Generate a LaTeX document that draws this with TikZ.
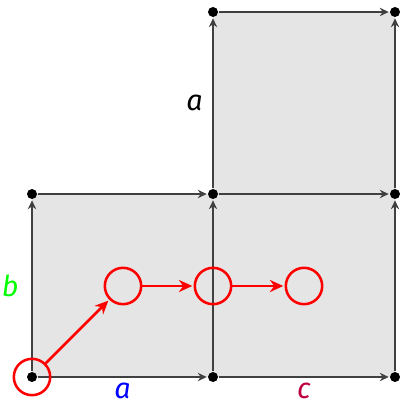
\documentclass[tikz,border=0pt]{standalone}
\usepackage{fontspec}
\setsansfont{Fira Sans}
\usetikzlibrary{arrows.meta,positioning,calc}
\begin{document}
\begin{tikzpicture}[
  x=0.011cm, y=-0.011cm,
  dot/.style={circle, fill=black, inner sep=0pt, minimum size=0.11cm},
  edge/.style={-{Stealth[length=2.8pt,width=2.6pt]}, black!75, line width=0.45pt, shorten >=0.2pt},
  ring/.style={circle, draw=red, line width=0.8pt, minimum size=0.4cm, inner sep=0pt},
  hop/.style={-{Stealth[length=4.2pt,width=3.8pt]}, red, line width=0.8pt, shorten >=0.4pt},
  lab/.style={font=\sffamily\itshape\small, inner sep=1pt}
]
\useasboundingbox (0,0) rectangle (399,402);

% shaded cells
\fill[black!10] (32,377) -- (395,377) -- (395,12) -- (213,12) -- (213,194) -- (32,194) -- cycle;

% lattice points
\node[dot] (p00) at (32,377) {};
\node[dot] (p10) at (213,377) {};
\node[dot] (p20) at (395,377) {};
\node[dot] (p01) at (32,194) {};
\node[dot] (p11) at (213,194) {};
\node[dot] (p21) at (395,194) {};
\node[dot] (p12) at (213,12) {};
\node[dot] (p22) at (395,12) {};

% horizontal edges
\draw[edge] (p00) -- node[lab, inner sep=0pt, below=1.5pt, text=blue] {a} (p10);
\draw[edge] (p10) -- node[lab, inner sep=0pt, below=1.5pt, text=purple] {c} (p20);
\draw[edge] (p01) -- (p11);
\draw[edge] (p11) -- (p21);
\draw[edge] (p12) -- (p22);

% vertical edges
\draw[edge] (p00) -- node[lab, left=3pt, text=green] {b} (p01);
\draw[edge] (p10) -- (p11);
\draw[edge] (p20) -- (p21);
\draw[edge] (p11) -- node[lab, left=2pt, text=black] {a} (p12);
\draw[edge] (p21) -- (p22);

% path of the walker
\node[ring] (r0) at (p00) {};
\node[ring] (r1) at (123,286) {};
\node[ring] (r2) at (213,286) {};
\node[ring] (r3) at (304,286) {};
\draw[hop] (r0) -- (r1);
\draw[hop] (r1) -- (r2);
\draw[hop] (r2) -- (r3);

\end{tikzpicture}
\end{document}
